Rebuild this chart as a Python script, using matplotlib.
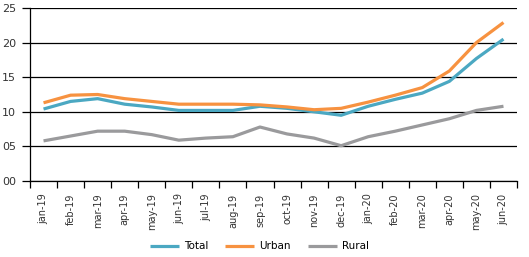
import matplotlib
matplotlib.use('Agg')
import matplotlib.pyplot as plt
import numpy as np

plt.rcParams['font.family'] = ['Liberation Sans Narrow', 'DejaVu Sans']

months = ['jan-19', 'feb-19', 'mar-19', 'apr-19', 'may-19', 'jun-19', 'jul-19', 'aug-19',
          'sep-19', 'oct-19', 'nov-19', 'dec-19', 'jan-20', 'feb-20', 'mar-20', 'apr-20',
          'may-20', 'jun-20']
total = [10.4, 11.5, 11.9, 11.1, 10.7, 10.2, 10.2, 10.2, 10.8, 10.5, 10.0, 9.5,
         10.8, 11.8, 12.7, 14.4, 17.7, 20.5]
urban = [11.3, 12.4, 12.5, 11.9, 11.5, 11.1, 11.1, 11.1, 11.0, 10.7, 10.3, 10.5,
         11.4, 12.4, 13.5, 15.9, 20.0, 22.9]
rural = [5.8, 6.5, 7.2, 7.2, 6.7, 5.9, 6.2, 6.4, 7.8, 6.8, 6.2, 5.1,
         6.4, 7.2, 8.1, 9.0, 10.2, 10.8]
yticks = [0, 5, 10, 15, 20, 25]
ylabels = ['00', '05', '10', '15', '20', '25']

fig = plt.figure(figsize=(5.29, 2.57), dpi=100)
ax = fig.add_axes([30 / 529, 1 - 181 / 257, 487 / 529, 173 / 257])

x = np.arange(len(months))
ax.plot(x, total, color='#4BA8C2', lw=2.3, label='Total', solid_capstyle='butt')
ax.plot(x, urban, color='#F79240', lw=2.3, label='Urban', solid_capstyle='butt')
ax.plot(x, rural, color='#9A9A9C', lw=2.3, label='Rural', solid_capstyle='butt')

ax.set_xlim(-0.5, len(months) - 0.5)
ax.set_ylim(0, 25)
ax.set_yticks(yticks)
ax.set_yticklabels(ylabels, fontsize=8, color='#333333')
ax.yaxis.grid(True, color='black', lw=0.9)
ax.set_axisbelow(True)

ax.set_xticks(np.arange(-0.5, len(months), 1))
ax.set_xticklabels([])
ax.set_xticks(x, minor=True)
ax.set_xticklabels(months, minor=True, rotation=90, fontsize=7, color='#333333')
ax.tick_params(axis='x', which='major', length=5, width=0.9, direction='out')
ax.tick_params(axis='x', which='minor', length=0, pad=9)
ax.tick_params(axis='y', length=6, width=0.9, pad=4)

for s in ['top', 'right']:
    ax.spines[s].set_visible(False)
ax.spines['left'].set_linewidth(0.9)
ax.spines['bottom'].set_linewidth(0.9)

fig.legend(loc='lower center', bbox_to_anchor=(0.49, -0.015), ncol=3, frameon=False,
           fontsize=7.5, handlelength=2.8, columnspacing=1.6, handletextpad=0.5)

fig.savefig('out.png', dpi=100)
